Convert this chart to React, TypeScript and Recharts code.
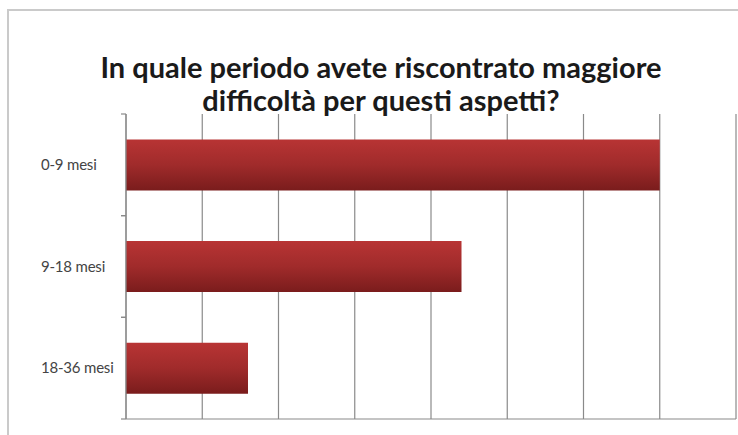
import React from "react";
import { BarChart, Bar, XAxis, YAxis, CartesianGrid } from "recharts";

// dati (scala 0-8, nessuna etichetta sull'asse X)
const categories = ["0-9 mesi", "9-18 mesi", "18-36 mesi"];
const values = [7, 4.4, 1.6];
const xTicks = [0, 1, 2, 3, 4, 5, 6, 7, 8];
const titleLines = [
  "In quale periodo avete riscontrato maggiore",
  "difficoltà per questi aspetti?",
];

const data = categories.map((periodo, i) => ({ periodo, valore: values[i] }));

const noTick = () => null;

// etichetta categoria + tacche sui bordi della fascia (stile Excel)
function CategoryTick(props: any) {
  const { x, y, payload } = props;
  const half = payload.offset || 0;
  return (
    <g>
      <line x1={x - 5} x2={x} y1={y - half} y2={y - half} stroke="#8a8a8a" strokeWidth={1.2} />
      <line x1={x - 5} x2={x} y1={y + half} y2={y + half} stroke="#8a8a8a" strokeWidth={1.2} />
      <text
        x={x - 85}
        y={y}
        dy="0.35em"
        textAnchor="start"
        fontFamily="Lato, 'Open Sans', sans-serif"
        fontSize={15}
        fill="#444"
        letterSpacing={-0.2}
      >
        {payload.value}
      </text>
    </g>
  );
}

export default function App() {
  return (
    <div
      style={{
        position: "absolute",
        left: 0,
        top: 0,
        width: 738,
        height: 435,
        overflow: "hidden",
        background: "#fff",
      }}
    >
      <div
        style={{
          position: "absolute",
          left: 7,
          top: 9,
          width: 780,
          height: 480,
          borderLeft: "2px solid #cacaca",
          borderTop: "2px solid #cacaca",
        }}
      />
      <div style={{ position: "absolute", left: 0, top: 0 }}>
        <BarChart
          width={738}
          height={435}
          data={data}
          layout="vertical"
          margin={{ top: 114, right: 2, bottom: 0, left: 26 }}
          barCategoryGap="25%"
        >
          <defs>
            <linearGradient id="barGrad" x1="0" y1="0" x2="0" y2="1">
              <stop offset="0%" stopColor="#b83434" />
              <stop offset="50%" stopColor="#a02b2b" />
              <stop offset="100%" stopColor="#7a1c1c" />
            </linearGradient>
          </defs>
          <CartesianGrid
            horizontal={false}
            verticalValues={xTicks}
            stroke="#8a8a8a"
            strokeWidth={1.2}
          />
          <XAxis
            type="number"
            domain={[0, 8]}
            ticks={xTicks}
            tick={noTick}
            tickLine={false}
            axisLine={{ stroke: "#8a8a8a", strokeWidth: 1.2 }}
            height={16}
          />
          <XAxis
            xAxisId="top"
            orientation="top"
            type="number"
            domain={[0, 8]}
            ticks={xTicks}
            tick={noTick}
            tickLine={false}
            axisLine={{ stroke: "#b8b8b8", strokeWidth: 1.2 }}
            height={0}
          />
          <YAxis
            type="category"
            dataKey="periodo"
            width={100}
            tickSize={0}
            tickMargin={0}
            tickLine={false}
            axisLine={{ stroke: "#8a8a8a", strokeWidth: 1.2 }}
            tick={<CategoryTick />}
            interval={0}
          />
          <Bar
            dataKey="valore"
            fill="url(#barGrad)"
            isAnimationActive={false}
          />
        </BarChart>
      </div>
      <div
        style={{
          position: "absolute",
          left: 81,
          top: 50,
          width: 600,
          textAlign: "center",
          fontFamily: "Lato, 'Open Sans', sans-serif",
          fontWeight: 700,
          fontSize: 29,
          lineHeight: "33px",
          color: "#1a1a1a",
          pointerEvents: "none",
        }}
      >
        {titleLines.map((t) => (
          <div key={t}>{t}</div>
        ))}
      </div>
    </div>
  );
}
